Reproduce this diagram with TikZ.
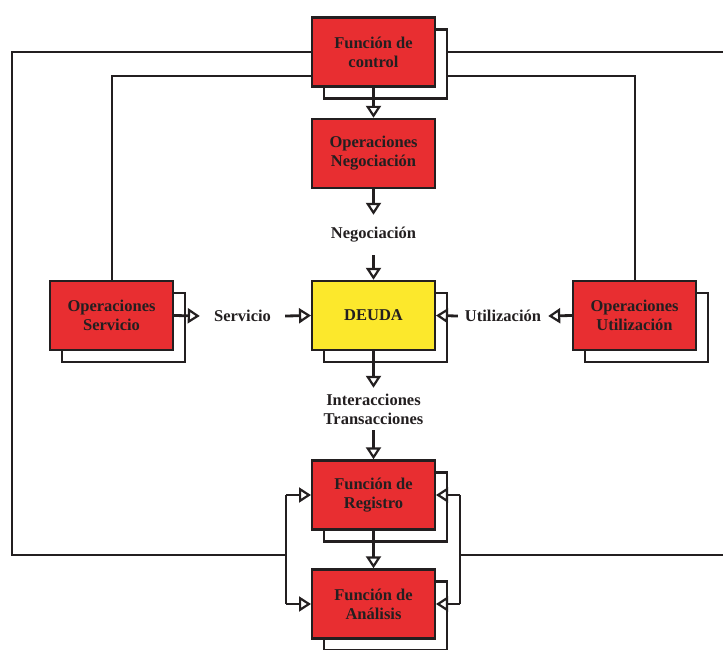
\documentclass[tikz,border=0pt]{standalone}
\usepackage{fontspec}
\setmainfont{Liberation Serif}
\usetikzlibrary{arrows.meta,calc}
\definecolor{boxred}{HTML}{E82E31}
\definecolor{debtyellow}{HTML}{FCE82C}
\definecolor{ink}{HTML}{231F20}

\begin{document}
\begin{tikzpicture}[x=1pt,y=-1pt,
  every node/.style={font=\fontsize{16.5}{19}\selectfont\bfseries, text=ink},
  block/.style={draw=ink, line width=2.4pt, minimum width=122.6pt, minimum height=69pt, inner sep=0pt, align=center},
  redblock/.style={block, fill=boxred},
  yellowblock/.style={block, fill=debtyellow},
  echo/.style={block, fill=white},
  wire/.style={draw=ink, line width=2.2pt},
  arr/.style={draw=ink, line width=2.8pt, -{Triangle[open, length=12pt, width=15pt, line width=2.2pt]}},
  tag/.style={inner sep=0pt, align=center}]

\useasboundingbox (0,0) rectangle (723,650);
\clip (0,0) rectangle (723,650);

% offset outlines behind the boxes
\node[echo] (ctrlS)  at (385.5,64)  {};
\node[echo] (deudaS) at (385.5,327.5) {};
\node[echo] (servS)  at (123.5,327.5) {};
\node[echo] (utilS)  at (646.5,327.5) {};
\node[echo] (regS)   at (385.5,507) {};
\node[echo] (analS)  at (385.5,616) {};

% boxes
\node[redblock] (ctrl)  at (373.5,52)    {Función de\\control};
\node[redblock] (neg)   at (373.5,153.5) {Operaciones\\Negociación};
\node[yellowblock] (deuda) at (373.5,315.5) {DEUDA};
\node[redblock] (serv)  at (111.5,315.5) {Operaciones\\Servicio};
\node[redblock] (util)  at (634.5,315.5) {Operaciones\\Utilización};
\node[redblock] (reg)   at (373.5,495)   {Función de\\Registro};
\node[redblock] (anal)  at (373.5,604)   {Función de\\Análisis};

% flow labels
\node[tag, minimum height=40pt] (lblneg)  at (373.5,235) {Negociación};
\node[tag, minimum height=42pt] (lbltx)   at (373.5,409) {Interacciones\\Transacciones};
\node[tag, minimum width=85pt]  (lblserv) at (242.5,316) {Servicio};
\node[tag, minimum width=90pt]  (lblutil) at (503,316)   {Utilización};

% loop corners
\coordinate (oTL) at (12,52);
\coordinate (oBL) at (12,555);
\coordinate (oTR) at (730,52);
\coordinate (oBR) at (730,555);
\coordinate (iTL) at (112,76);
\coordinate (iTR) at (635,76);
\coordinate (lbus) at (286,555);
\coordinate (rbus) at (460,555);

% control loops
\draw[wire] (ctrl.west) -- (oTL) -- (oBL) -- (lbus);
\draw[wire] (ctrl.west |- iTL) -- (iTL) -- (iTL |- serv.north);
\draw[wire] (ctrlS.east |- oTR) -- (oTR);
\draw[wire] (ctrlS.east |- iTR) -- (iTR) -- (iTR |- util.north);
\draw[wire] (rbus) -- (oBR);

% feedback buses to registro / analisis
\draw[wire] (lbus |- reg.west) -- (lbus |- anal.west);
\draw[wire] (rbus |- reg.east) -- (rbus |- anal.east);
\draw[arr] (lbus |- reg.west) -- (reg.west);
\draw[arr] (lbus |- anal.west) -- (anal.west);
\draw[arr] (rbus |- reg.east) -- (reg.east);
\draw[arr] (rbus |- anal.east) -- (anal.east);

% main flow
\draw[arr] (ctrl.south) -- (neg.north);
\draw[arr] (neg.south) -- (lblneg.north);
\draw[arr] (lblneg.south) -- (deuda.north);
\draw[arr] (serv.east) -- (lblserv.west);
\draw[arr] (lblserv.east) -- (deuda.west);
\draw[arr] (util.west) -- (lblutil.east);
\draw[arr] (lblutil.west) -- (deuda.east);
\draw[arr] (deuda.south) -- (lbltx.north);
\draw[arr] (lbltx.south) -- (reg.north);
\draw[arr] (reg.south) -- (anal.north);
\end{tikzpicture}
\end{document}
